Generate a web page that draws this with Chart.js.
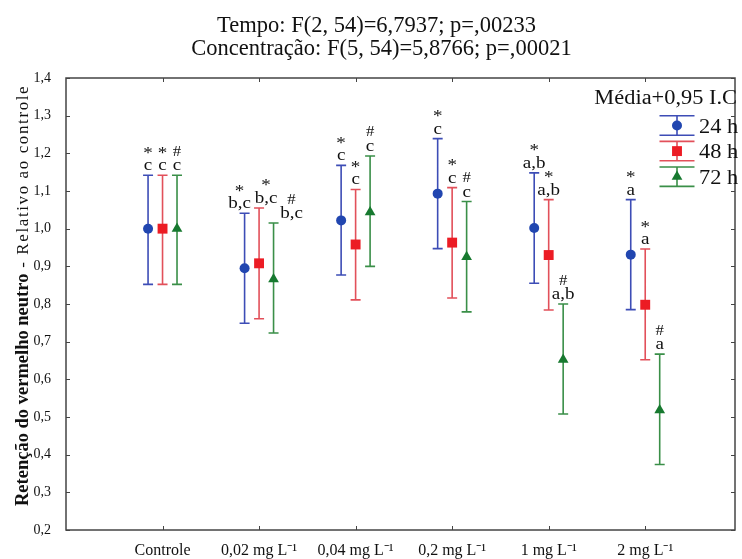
<!DOCTYPE html>
<html><head><meta charset="utf-8">
<script src="https://cdn.jsdelivr.net/npm/chart.js@4/dist/chart.umd.min.js"></script>
<style>html,body{margin:0;padding:0;background:#fff;overflow:hidden}canvas{display:block}</style>
</head><body><canvas id="c" width="742" height="559"></canvas>
<script>
// ---------- data ----------
const categories = ['Controle', '0,02 mg L⁻¹', '0,04 mg L⁻¹', '0,2 mg L⁻¹', '1 mg L⁻¹', '2 mg L⁻¹'];
const seriesNames = ['24 h', '48 h', '72 h'];
const mean24 = [1.000, 0.895, 1.022, 1.093, 1.002, 0.931];
const low24  = [0.852, 0.749, 0.877, 0.947, 0.855, 0.785];
const high24 = [1.142, 1.041, 1.168, 1.239, 1.148, 1.077];
const mean48 = [1.000, 0.908, 0.958, 0.963, 0.930, 0.798];
const low48  = [0.852, 0.761, 0.811, 0.816, 0.784, 0.652];
const high48 = [1.142, 1.055, 1.104, 1.109, 1.077, 0.946];
const mean72 = [1.000, 0.866, 1.044, 0.925, 0.652, 0.518];
const low72  = [0.852, 0.723, 0.900, 0.779, 0.508, 0.374];
const high72 = [1.142, 1.015, 1.193, 1.072, 0.800, 0.667];
const marks24 = ['*', '*', '*', '*', '*', '*'];
const marks48 = ['*', '*', '*', '*', '*', '*'];
const marks72 = ['#', '#', '#', '#', '#', '#'];
const groupLetters = ['c', 'b,c', 'c', 'c', 'a,b', 'a'];
const yMin = 0.2, yMax = 1.4, yStep = 0.1;
const titleLines = ['Tempo: F(2, 54)=6,7937; p=,00233', 'Concentração: F(5, 54)=5,8766; p=,00021'];
const legendTitle = 'Média+0,95 I.C';
const yTitleBold = 'Retenção do vermelho neutro';
const yTitleRegular = ' - Relativo ao controle';

// ---------- styling ----------
const SERIF = "'Liberation Serif', 'Times New Roman', serif";
const SX = 1.12; // horizontal stretch of the original artwork's small text
const styles = [
  {marker: '#2146b0', line: '#3d4db6', pointStyle: 'circle', radius: 5},
  {marker: '#ec1c24', line: '#e2505a', pointStyle: 'rect', radius: 7},
  {marker: '#17792f', line: '#3a8f48', pointStyle: 'triangle', radius: 6.2}
];
const seriesOffset = [-0.15, 0, 0.15];
const labelNudge = {1: [-5, 7, 18]};

const means = [mean24, mean48, mean72], lows = [low24, low48, low72], highs = [high24, high48, high72];
const marks = [marks24, marks48, marks72];

const datasets = seriesNames.map((name, s) => ({
  label: name,
  data: categories.map((c, i) => ({x: i + 1 + seriesOffset[s], y: means[s][i], lo: lows[s][i], hi: highs[s][i], mark: marks[s][i], letter: groupLetters[i], gi: i})),
  pointStyle: styles[s].pointStyle,
  pointRadius: styles[s].radius,
  pointHoverRadius: styles[s].radius,
  backgroundColor: styles[s].marker,
  borderColor: styles[s].marker,
  borderWidth: 0,
  showLine: false,
  lineColor: styles[s].line,
  order: 3 - s
}));

function sText(ctx, text, x, y, align, sx) {
  ctx.save(); ctx.translate(x, y); ctx.scale(sx, 1); ctx.textAlign = align; ctx.fillText(text, 0, 0); ctx.restore();
}

const framePlugin = {
  id: 'frame',
  beforeDatasetsDraw(chart) {
    const {ctx, chartArea: a, scales: {x, y}} = chart;
    ctx.save();
    ctx.strokeStyle = '#444'; ctx.lineWidth = 1.5;
    ctx.strokeRect(a.left, a.top, a.right - a.left, a.bottom - a.top);
    ctx.lineWidth = 1;
    ctx.beginPath();
    x.ticks.forEach(t => { const px = Math.round(x.getPixelForValue(t.value)) + 0.5;
      ctx.moveTo(px, a.bottom); ctx.lineTo(px, a.bottom - 4); ctx.moveTo(px, a.top); ctx.lineTo(px, a.top + 4); });
    y.ticks.forEach(t => { const py = Math.round(y.getPixelForValue(t.value)) + 0.5;
      ctx.moveTo(a.left, py); ctx.lineTo(a.left + 4, py); ctx.moveTo(a.right, py); ctx.lineTo(a.right - 4, py); });
    ctx.stroke();
    // error bars
    chart.data.datasets.forEach(ds => {
      ctx.strokeStyle = ds.lineColor; ctx.lineWidth = 1.6;
      ctx.beginPath();
      ds.data.forEach(p => {
        const px = x.getPixelForValue(p.x), lo = y.getPixelForValue(p.lo), hi = y.getPixelForValue(p.hi);
        ctx.moveTo(px, lo); ctx.lineTo(px, hi);
        ctx.moveTo(px - 5, lo); ctx.lineTo(px + 5, lo);
        ctx.moveTo(px - 5, hi); ctx.lineTo(px + 5, hi);
      });
      ctx.stroke();
    });
    ctx.restore();
  },
  afterDatasetsDraw(chart) {
    const {ctx, scales: {x, y}} = chart;
    ctx.save();
    ctx.fillStyle = '#111';
    ctx.textBaseline = 'alphabetic';
    chart.data.datasets.forEach((ds, s) => {
      ds.data.forEach(p => {
        const nud = labelNudge[p.gi] ? labelNudge[p.gi][s] : 0;
        const px = x.getPixelForValue(p.x) + nud, hi = y.getPixelForValue(p.hi);
        ctx.font = '17px ' + SERIF;
        sText(ctx, p.letter, px, hi - 5, 'center', SX);
        if (p.mark === '*') { ctx.font = '17px ' + SERIF; sText(ctx, p.mark, px, hi - 17.5, 'center', SX); }
        else { ctx.font = '15px ' + SERIF; sText(ctx, p.mark, px, hi - 19.5, 'center', SX); }
      });
    });
    ctx.restore();
  },
  afterDraw(chart) {
    const {ctx} = chart;
    ctx.save();
    ctx.fillStyle = '#111';
    ctx.textBaseline = 'alphabetic';
    // title
    ctx.font = '22.5px ' + SERIF;
    sText(ctx, titleLines[0], 376.5, 32, 'center', 1);
    sText(ctx, titleLines[1], 381.5, 55, 'center', 1);
    // legend
    ctx.textBaseline = 'middle';
    ctx.font = '20px ' + SERIF;
    sText(ctx, legendTitle, 737, 99, 'right', SX);
    chart.data.datasets.forEach((ds, s) => {
      const cy = 125.5 + s * 25.6, cx = 677;
      ctx.strokeStyle = ds.lineColor; ctx.lineWidth = 1.6;
      ctx.beginPath();
      ctx.moveTo(cx - 17.5, cy - 9.7); ctx.lineTo(cx + 17.5, cy - 9.7);
      ctx.moveTo(cx - 17.5, cy + 9.7); ctx.lineTo(cx + 17.5, cy + 9.7);
      ctx.moveTo(cx, cy - 9.7); ctx.lineTo(cx, cy + 9.7);
      ctx.stroke();
      ctx.fillStyle = ds.backgroundColor; ctx.strokeStyle = ds.backgroundColor;
      Chart.helpers.drawPoint(ctx, {pointStyle: ds.pointStyle, radius: ds.pointRadius, rotation: 0, borderWidth: 0}, cx, cy);
      ctx.fillStyle = '#111';
      sText(ctx, ds.label, 699, cy + 2, 'left', SX);
    });
    // y title
    ctx.translate(28, 506);
    ctx.rotate(-Math.PI / 2);
    ctx.textBaseline = 'alphabetic';
    ctx.textAlign = 'left';
    ctx.font = 'bold 18.5px ' + SERIF;
    ctx.fillText(yTitleBold, 0, 0);
    const w = ctx.measureText(yTitleBold).width;
    ctx.font = '17px ' + SERIF;
    ctx.letterSpacing = '1.6px';
    ctx.fillText(yTitleRegular, w, 0);
    ctx.restore();
  }
};

new Chart(document.getElementById('c'), {
  type: 'scatter',
  data: {datasets},
  options: {
    responsive: false, animation: false,
    layout: {padding: {top: 78, right: -1, left: 0, bottom: 0}},
    plugins: {legend: {display: false}, tooltip: {enabled: false}, title: {display: false}},
    scales: {
      x: {
        type: 'linear', min: 0, max: 6.93,
        afterBuildTicks: sc => { sc.ticks = categories.map((c, i) => ({value: i + 1})); },
        afterFit: sc => { sc.height = 29; },
        grid: {display: false, drawTicks: false},
        border: {display: false},
        ticks: {autoSkip: false, maxRotation: 0, padding: 11, color: '#111',
          font: {family: SERIF, size: 16},
          callback: v => categories[Math.round(v) - 1] || ''}
      },
      y: {
        min: yMin, max: yMax,
        afterFit: sc => { sc.width = 66; },
        grid: {display: false, drawTicks: false},
        border: {display: false},
        ticks: {stepSize: yStep, padding: 15, color: '#111',
          font: {family: SERIF, size: 14},
          callback: v => v.toFixed(1).replace('.', ',')}
      }
    }
  },
  plugins: [framePlugin]
});
</script></body></html>
